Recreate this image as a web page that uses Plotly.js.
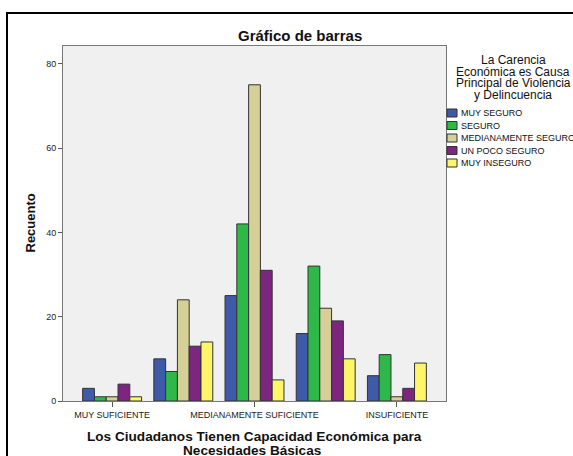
<!DOCTYPE html>
<html><head><meta charset="utf-8">
<script src="https://cdn.plot.ly/plotly-3.0.1.min.js"></script>
<style>html,body{margin:0;padding:0;background:#fff;overflow:hidden}</style>
</head><body>
<div id="chart" style="width:573px;height:456px"></div>
<script>
const categories = ['MUY SUFICIENTE','SUFICIENTE','MEDIANAMENTE SUFICIENTE','POCO SUFICIENTE','INSUFICIENTE'];
const tickLabels = ['MUY SUFICIENTE','MEDIANAMENTE SUFICIENTE','INSUFICIENTE'];
const seriesNames = ['MUY SEGURO','SEGURO','MEDIANAMENTE SEGURO','UN POCO SEGURO','MUY INSEGURO'];
const muySeguro = [3,10,25,16,6];
const seguro = [1,7,42,32,11];
const medianamenteSeguro = [1,24,75,22,1];
const unPocoSeguro = [4,13,31,19,3];
const muyInseguro = [1,14,5,10,9];
const legendTitleLines = ['La Carencia','Económica es Causa','Principal de Violencia','y Delincuencia'];
const colors = ['#3e5aa8','#2fb84a','#d5cf98','#7c2680','#fdf66a'];
const seriesValues = [muySeguro, seguro, medianamenteSeguro, unPocoSeguro, muyInseguro];

const L=63, R=446, T=46, B=401;
const px = v => (v-L)/(R-L);
const py = v => (B-v)/(B-T);

const traces = seriesValues.map((vals,i)=>({
  type:'bar', x:categories, y:vals, name:seriesNames[i],
  marker:{color:colors[i], line:{color:'#333', width:1}},
  showlegend:false, hoverinfo:'skip'
}));

const font = 'Liberation Sans, Arial, sans-serif';
const annotations = [
  {text:'<b>Gráfico de barras</b>', xref:'paper', yref:'paper', x:px(300), y:py(35), xanchor:'center', yanchor:'middle', showarrow:false, font:{family:font,size:15,color:'#111'}},
  {text:'<b>Recuento</b>', xref:'paper', yref:'paper', x:px(30), y:0.5, textangle:-90, xanchor:'center', yanchor:'middle', showarrow:false, font:{family:font,size:13,color:'#111'}},
  {text:'<b>Los Ciudadanos Tienen Capacidad Económica para</b>', xref:'paper', yref:'paper', x:px(255), y:py(436.5), xanchor:'center', yanchor:'middle', showarrow:false, font:{family:font,size:13.6,color:'#111'}},
  {text:'<b>Necesidades Básicas</b>', xref:'paper', yref:'paper', x:px(252), y:py(450.5), xanchor:'center', yanchor:'middle', showarrow:false, font:{family:font,size:13.6,color:'#111'}}
];
legendTitleLines.forEach((t,i)=>annotations.push({text:t, xref:'paper', yref:'paper', x:px(513), y:py(60+11.5*i), xanchor:'center', yanchor:'middle', showarrow:false, font:{family:font,size:12,color:'#111'}}));
const shapes = [
  {type:'rect', xref:'paper', yref:'paper', x0:px(7), x1:1.6, y0:-0.5, y1:py(13), line:{color:'#000', width:2}, fillcolor:'rgba(0,0,0,0)', layer:'below'}
];
seriesNames.forEach((n,i)=>{
  const top = 109+12.5*i;
  shapes.push({type:'rect', xref:'paper', yref:'paper', x0:px(447), x1:px(457), y0:py(top+8), y1:py(top), fillcolor:colors[i], line:{color:'#333', width:1}});
  annotations.push({text:n, xref:'paper', yref:'paper', x:px(459), y:py(top+4), xanchor:'left', yanchor:'middle', showarrow:false, font:{family:font,size:9,color:'#111'}});
});

const layout = {
  width:573, height:456,
  margin:{l:L, r:573-R, t:T, b:456-B, pad:0},
  paper_bgcolor:'#ffffff', plot_bgcolor:'#f0f0f0',
  barmode:'group', bargap:0.172, bargroupgap:0,
  showlegend:false,
  xaxis:{type:'category', range:[-0.69,4.69], tickmode:'array', tickvals:tickLabels, ticktext:tickLabels,
    ticks:'outside', ticklen:5, tickcolor:'#555', showline:true, linecolor:'#777', mirror:true, showgrid:false, zeroline:false,
    tickfont:{family:font,size:9,color:'#222'}, fixedrange:true},
  yaxis:{range:[0,84.2], tickvals:[0,20,40,60,80], ticks:'outside', ticklen:4, tickcolor:'#555', showline:true, linecolor:'#777', mirror:true,
    showgrid:false, zeroline:false, tickfont:{family:font,size:9,color:'#222'}, fixedrange:true},
  annotations, shapes
};
Plotly.newPlot('chart', traces, layout, {staticPlot:true, displayModeBar:false});
</script>
</body></html>
